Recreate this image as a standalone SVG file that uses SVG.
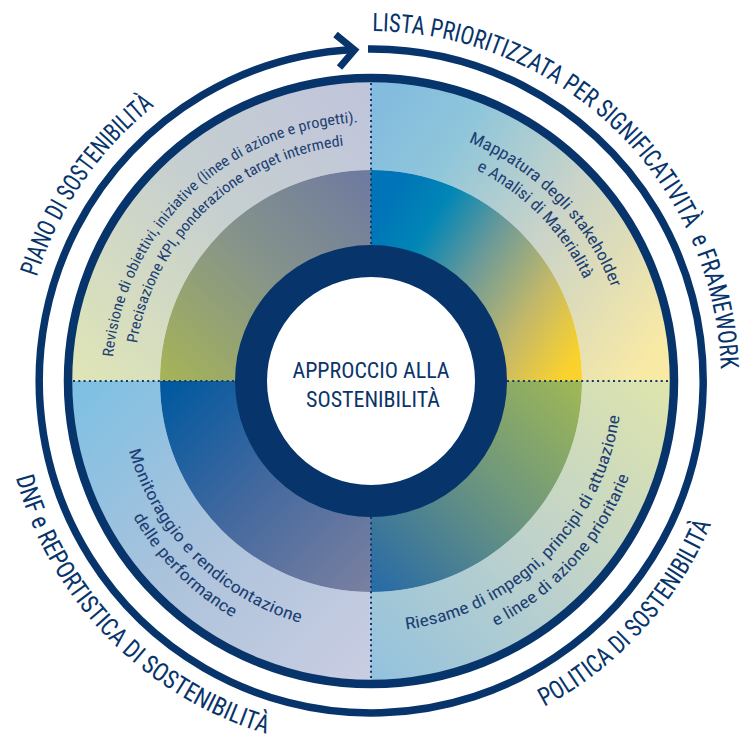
<svg xmlns="http://www.w3.org/2000/svg" width="740" height="737" viewBox="0 0 740 737">
<style>
.navy{fill:none;stroke:#06346b}
.dot{fill:none;stroke:#0d3a70;stroke-width:2;stroke-dasharray:2 3.3}
.lbl{font-family:"Roboto Condensed","DejaVu Sans Condensed","Liberation Sans Narrow",Roboto,sans-serif;fill:#06346b;font-size:25.5px}
.band{font-family:"Roboto Condensed","DejaVu Sans Condensed","Liberation Sans Narrow",Roboto,sans-serif;fill:#1d3f73;font-size:16.5px}
.small{font-size:15px}
.ctr{font-family:"Roboto Condensed","DejaVu Sans Condensed","Liberation Sans Narrow",Roboto,sans-serif;fill:#0b3468;font-size:22px}
</style>
<defs>
<linearGradient id="gTLo" gradientUnits="userSpaceOnUse" x1="360" y1="85" x2="75" y2="375"><stop offset="0" stop-color="#c0c5db"/><stop offset="0.45" stop-color="#c6cfd0"/><stop offset="1" stop-color="#dfe5b6"/></linearGradient>
<linearGradient id="gTLm" gradientUnits="userSpaceOnUse" x1="365" y1="175" x2="170" y2="375"><stop offset="0" stop-color="#6f7b9f"/><stop offset="0.5" stop-color="#86948a"/><stop offset="1" stop-color="#a4b25a"/></linearGradient>
<linearGradient id="gTRo" gradientUnits="userSpaceOnUse" x1="375" y1="120" x2="670" y2="330"><stop offset="0" stop-color="#84bcdf"/><stop offset="0.22" stop-color="#8fc6da"/><stop offset="0.55" stop-color="#c9d3c9"/><stop offset="1" stop-color="#f8e9a5"/></linearGradient>
<linearGradient id="gTRm" gradientUnits="userSpaceOnUse" x1="375" y1="220" x2="580" y2="350"><stop offset="0" stop-color="#0074b8"/><stop offset="0.2" stop-color="#0086b6"/><stop offset="0.45" stop-color="#6c9a98"/><stop offset="0.75" stop-color="#c5b968"/><stop offset="1" stop-color="#fad22d"/></linearGradient>
<linearGradient id="gBLo" gradientUnits="userSpaceOnUse" x1="75" y1="390" x2="365" y2="675"><stop offset="0" stop-color="#7ec0e3"/><stop offset="0.5" stop-color="#acc3dc"/><stop offset="1" stop-color="#c9cde1"/></linearGradient>
<linearGradient id="gBLm" gradientUnits="userSpaceOnUse" x1="165" y1="385" x2="365" y2="585"><stop offset="0" stop-color="#0059a0"/><stop offset="0.5" stop-color="#44699f"/><stop offset="1" stop-color="#787fa0"/></linearGradient>
<linearGradient id="gBRo" gradientUnits="userSpaceOnUse" x1="665" y1="390" x2="378" y2="677"><stop offset="0" stop-color="#dde4ad"/><stop offset="0.5" stop-color="#bfd2cb"/><stop offset="1" stop-color="#94c2dd"/></linearGradient>
<linearGradient id="gBRm" gradientUnits="userSpaceOnUse" x1="578" y1="385" x2="378" y2="585"><stop offset="0" stop-color="#9eb756"/><stop offset="0.5" stop-color="#6a9480"/><stop offset="1" stop-color="#2a6ca5"/></linearGradient>
<path id="pLista" d="M372.22,31 A350,350 0 0 1 720.79,368.79"/>
<path id="pPiano" d="M36.83,276.92 A350,350 0 0 1 154.56,105.95"/>
<path id="pDnf" d="M15.87,477.49 A368,368 0 0 0 266.48,733.85"/>
<path id="pPol" d="M544.23,706.81 A369,369 0 0 0 711.17,523.99"/>
<path id="pTL1" d="M113.11,357.08 A259,259 0 0 1 357.9,122.33"/>
<path id="pTL2" d="M136.98,343.52 A237,237 0 0 1 343.76,145.57"/>
<path id="pTR1" d="M468.48,142.13 A258,258 0 0 1 611.54,287.7"/>
<path id="pTR2" d="M476.3,169.8 A236,236 0 0 1 584.01,279.4"/>
<path id="pBL1" d="M128.76,450.46 A252,252 0 0 0 299.85,622.75"/>
<path id="pBL2" d="M132.99,516.76 A274,274 0 0 0 232.76,617.57"/>
<path id="pBR1" d="M405.93,629.56 A251,251 0 0 0 619.56,415.93"/>
<path id="pBR2" d="M495.42,626.24 A275,275 0 0 0 628.92,476.41"/>
</defs>
<rect width="740" height="737" fill="#ffffff"/>

<g id="q-top-left">
<path d="M71,381 A300,300 0 0 1 371,81 L371,170 A211,211 0 0 0 160,381 Z" fill="url(#gTLo)"/>
<path d="M160,381 A211,211 0 0 1 371,170 L371,251 A130,130 0 0 0 241,381 Z" fill="url(#gTLm)"/>
<text class="band small"><textPath href="#pTL1" textLength="369.8" lengthAdjust="spacingAndGlyphs">Revisione di obiettivi, iniziative (linee di azione e progetti).</textPath></text>
<text class="band small"><textPath href="#pTL2" textLength="307.3" lengthAdjust="spacingAndGlyphs">Precisazione KPI, ponderazione target intermedi</textPath></text>
</g>

<g id="q-top-right">
<path d="M371,81 A300,300 0 0 1 671,381 L582,381 A211,211 0 0 0 371,170 Z" fill="url(#gTRo)"/>
<path d="M371,170 A211,211 0 0 1 582,381 L501,381 A130,130 0 0 0 371,251 Z" fill="url(#gTRm)"/>
<text class="band"><textPath href="#pTR1" textLength="209.8" lengthAdjust="spacingAndGlyphs">Mappatura degli stakeholder</textPath></text>
<text class="band"><textPath href="#pTR2" textLength="156.5" lengthAdjust="spacingAndGlyphs">e Analisi di Materialità</textPath></text>
</g>

<g id="q-bottom-right">
<path d="M671,381 A300,300 0 0 1 371,681 L371,592 A211,211 0 0 0 582,381 Z" fill="url(#gBRo)"/>
<path d="M582,381 A211,211 0 0 1 371,592 L371,511 A130,130 0 0 0 501,381 Z" fill="url(#gBRm)"/>
<text class="band"><textPath href="#pBR1" textLength="324.2" lengthAdjust="spacingAndGlyphs">Riesame di impegni, principi di attuazione</textPath></text>
<text class="band"><textPath href="#pBR2" textLength="205.4" lengthAdjust="spacingAndGlyphs">e linee di azione prioritarie</textPath></text>
</g>

<g id="q-bottom-left">
<path d="M371,681 A300,300 0 0 1 71,381 L160,381 A211,211 0 0 0 371,592 Z" fill="url(#gBLo)"/>
<path d="M371,592 A211,211 0 0 1 160,381 L241,381 A130,130 0 0 0 371,511 Z" fill="url(#gBLm)"/>
<text class="band"><textPath href="#pBL1" textLength="253.3" lengthAdjust="spacingAndGlyphs">Monitoraggio e rendicontazione</textPath></text>
<text class="band"><textPath href="#pBL2" textLength="143.5" lengthAdjust="spacingAndGlyphs">delle performance</textPath></text>
</g>

<g id="dividers">
<line class="dot" x1="371" y1="83" x2="371" y2="245"/>
<line class="dot" x1="371" y1="517" x2="371" y2="679"/>
<line class="dot" x1="73" y1="381" x2="235" y2="381"/>
<line class="dot" x1="507" y1="381" x2="669" y2="381"/>
</g>

<g id="rings">
<circle class="navy" cx="371" cy="381" r="303" stroke-width="8.5"/>
<circle cx="371" cy="381" r="120" fill="#ffffff" stroke="#06346b" stroke-width="32"/>
</g>

<g id="center">
<text class="ctr" x="371" y="378" text-anchor="middle" textLength="157" lengthAdjust="spacingAndGlyphs">APPROCCIO ALLA</text>
<text class="ctr" x="373" y="407" text-anchor="middle" textLength="134" lengthAdjust="spacingAndGlyphs">SOSTENIBILITÀ</text>
</g>

<g id="connectors">
<path class="navy" d="M368,49.01 A332,332 0 1 1 354,49.44" stroke-width="7.5"/>
<polyline class="navy" points="335.5,34.5 354.5,50 339.5,67.5" stroke-width="7" stroke-linejoin="miter"/>
</g>

<g id="labels">
<text class="lbl" xml:space="preserve"><textPath href="#pLista" textLength="536.3" lengthAdjust="spacingAndGlyphs">LISTA PRIORITIZZATA PER SIGNIFICATIVITÀ  e FRAMEWORK</textPath></text>
<text class="lbl"><textPath href="#pPiano" textLength="210.7" lengthAdjust="spacingAndGlyphs">PIANO DI SOSTENIBILITÀ</textPath></text>
<text class="lbl"><textPath href="#pDnf" textLength="374.4" lengthAdjust="spacingAndGlyphs">DNF e REPORTISTICA DI SOSTENIBILITÀ</textPath></text>
<text class="lbl"><textPath href="#pPol" textLength="252.5" lengthAdjust="spacingAndGlyphs">POLITICA DI SOSTENIBILITÀ</textPath></text>
</g>
</svg>
